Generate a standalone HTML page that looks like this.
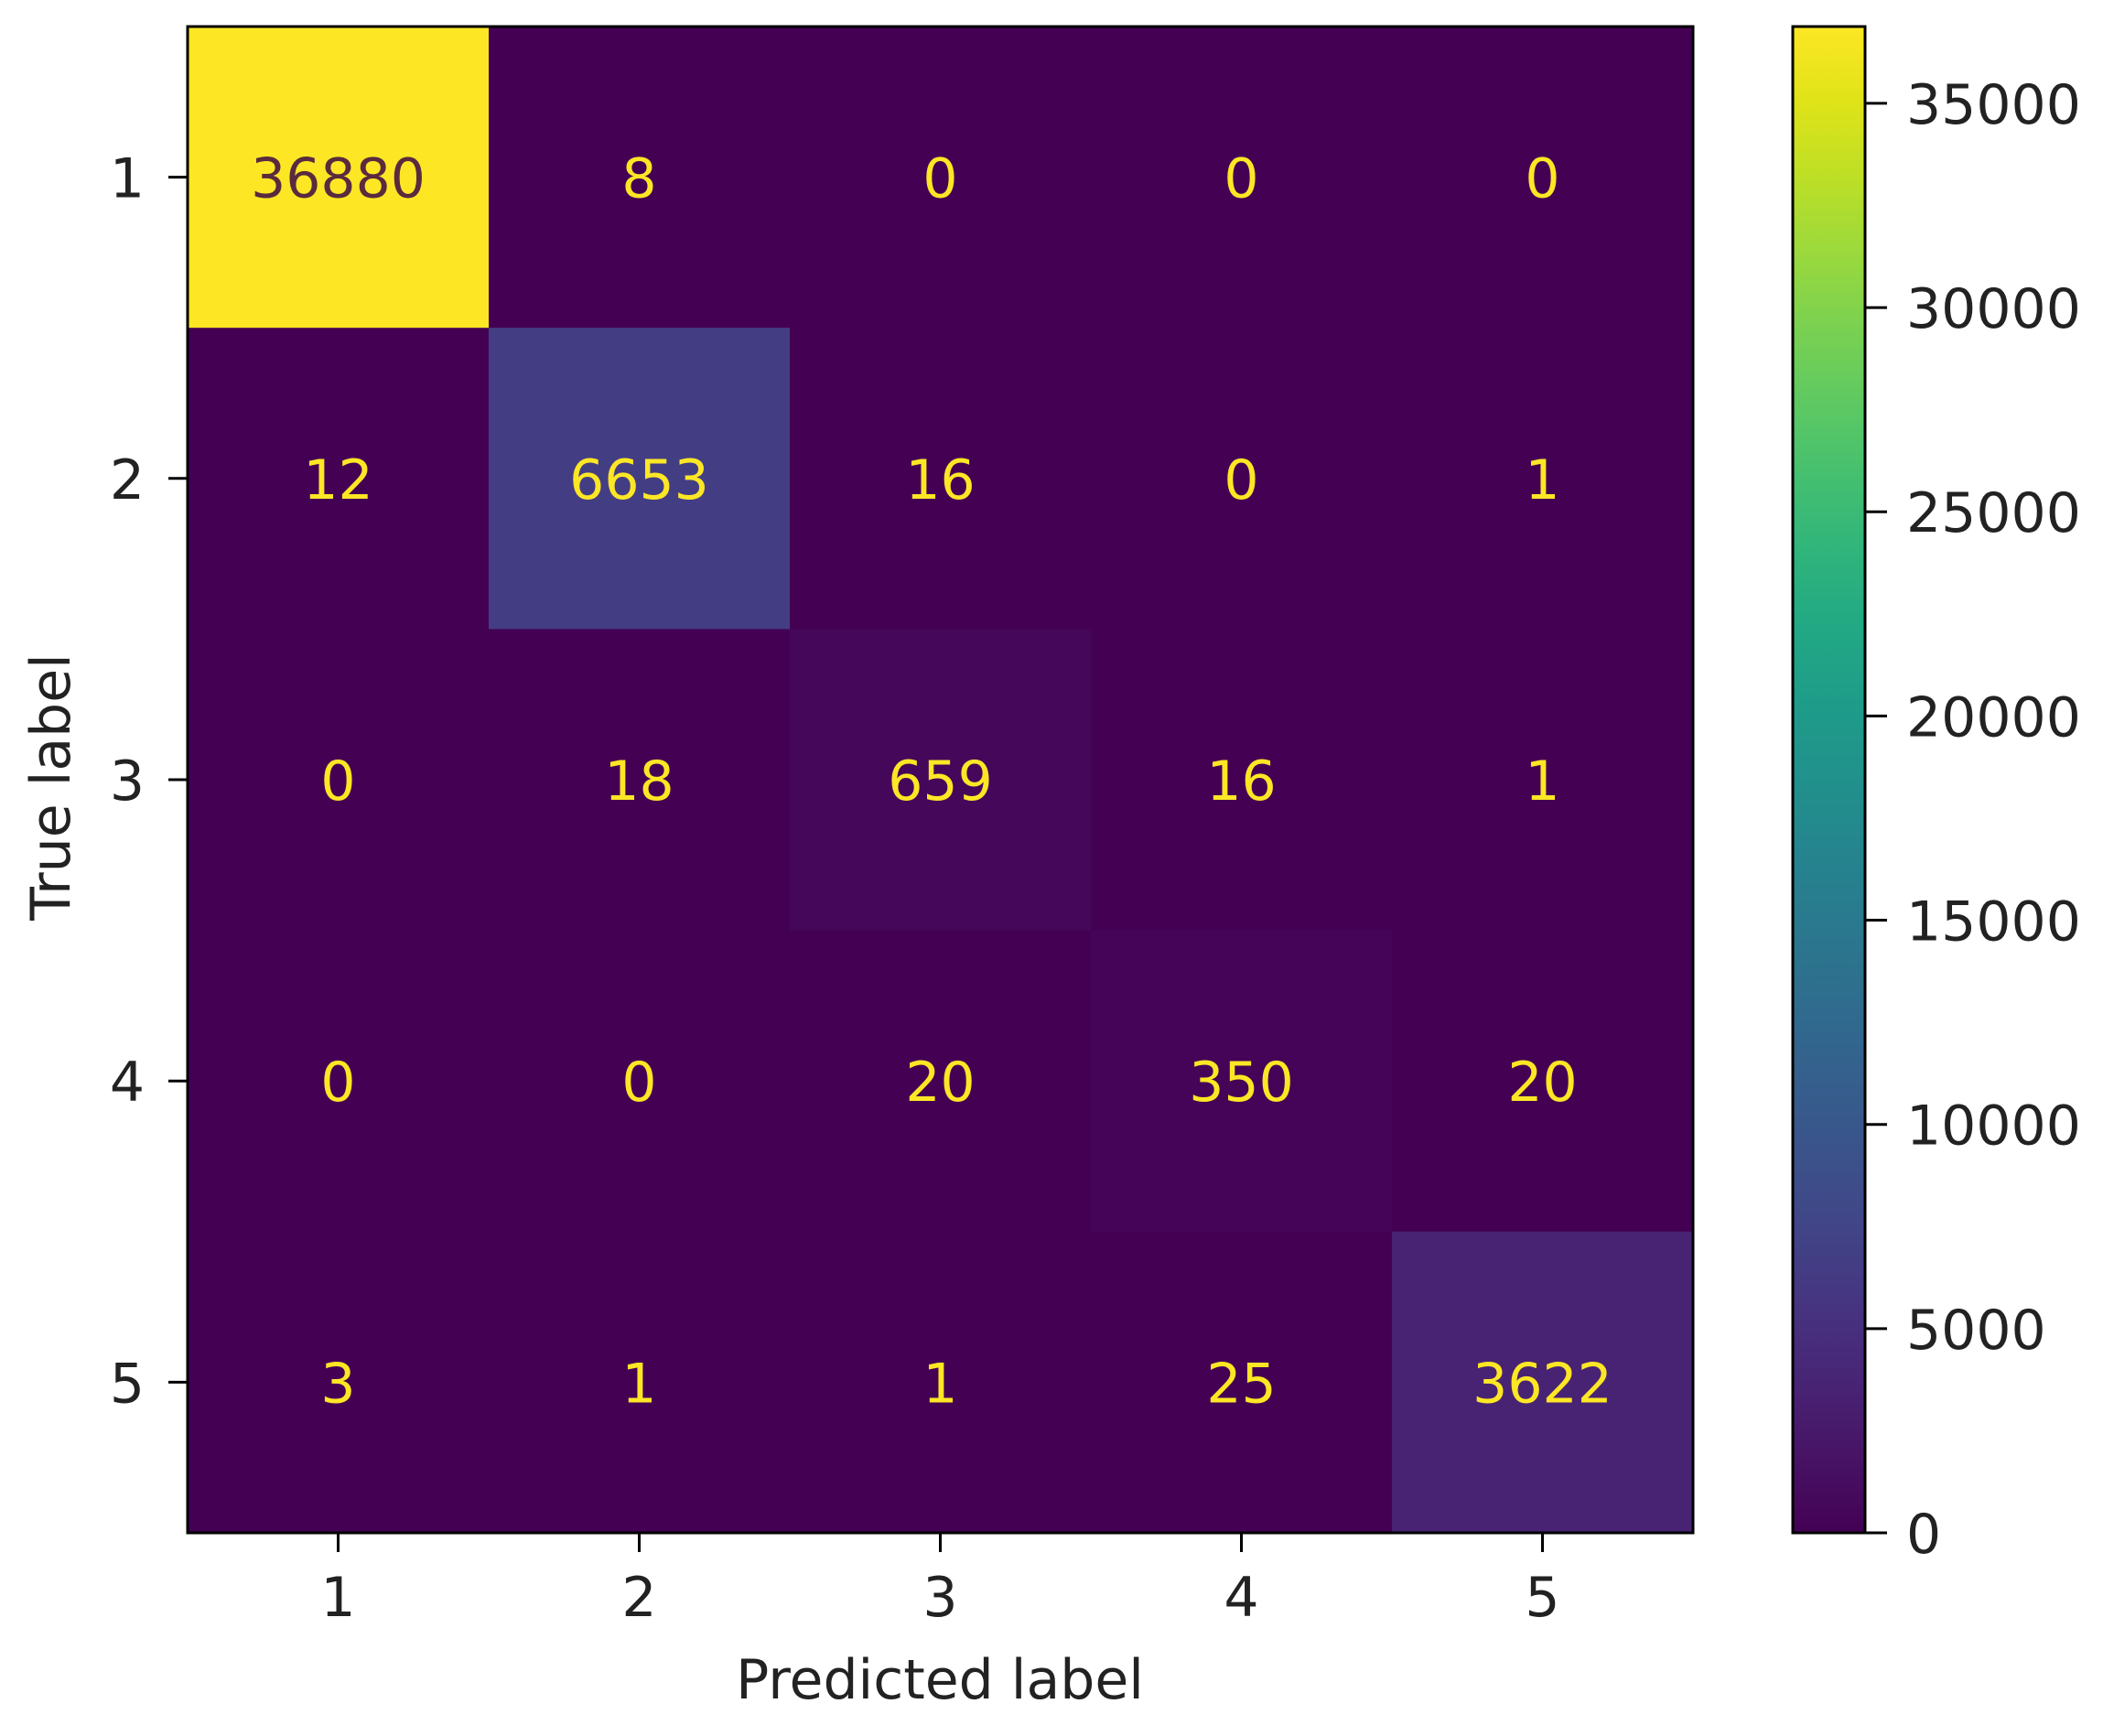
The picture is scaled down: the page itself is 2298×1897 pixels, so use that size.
<!DOCTYPE html>
<html><head><meta charset="utf-8"><style>
html,body{margin:0;padding:0;background:#fff;}
svg{display:block;font-family:"DejaVu Sans","Liberation Sans",sans-serif;}
</style></head><body>
<svg id="chart" width="2298" height="1897" viewBox="0 0 2298 1897" xmlns="http://www.w3.org/2000/svg">
<defs><linearGradient id="vgrad" x1="0" y1="1" x2="0" y2="0"></linearGradient></defs>
<g id="cells"></g>
<g id="annots"></g>
<rect x="205" y="29" width="1645" height="1646" fill="none" stroke="#000" stroke-width="3"/>
<g id="xticks"></g>
<g id="yticks"></g>
<text x="1027" y="1856" font-size="60" text-anchor="middle" fill="#222">Predicted label</text>
<text x="0" y="0" font-size="60" text-anchor="middle" fill="#222" transform="translate(76,860) rotate(-90)">True label</text>
<rect x="1959" y="29" width="79" height="1646" fill="url(#vgrad)" stroke="#000" stroke-width="3"/>
<g id="cbticks"></g>
</svg>
<script>
const categories = ["1","2","3","4","5"];
const matrix = [
  [36880, 8, 0, 0, 0],
  [12, 6653, 16, 0, 1],
  [0, 18, 659, 16, 1],
  [0, 0, 20, 350, 20],
  [3, 1, 1, 25, 3622]
];
const cbTickValues = [0, 5000, 10000, 15000, 20000, 25000, 30000, 35000];

const NS = "http://www.w3.org/2000/svg";
const viridis = ["#440154","#471365","#482475","#463480","#414487","#3b528b","#355f8d","#2f6c8e","#2a788e","#25848e","#21918c","#1e9c89","#22a884","#2fb47c","#44bf70","#5ec962","#7ad151","#9bd93c","#bddf26","#dfe318","#fde725"];
function hex(c){return [parseInt(c.slice(1,3),16),parseInt(c.slice(3,5),16),parseInt(c.slice(5,7),16)];}
function cmap(t){t=Math.max(0,Math.min(1,t));const p=t*(viridis.length-1);const i=Math.min(Math.floor(p),viridis.length-2);const f=p-i;const a=hex(viridis[i]),b=hex(viridis[i+1]);return "rgb("+a.map((v,k)=>Math.round(v+(b[k]-v)*f)).join(",")+")";}
const vmax = Math.max(...matrix.flat()), vmin = Math.min(...matrix.flat());
const plotLeft=205, plotTop=29, plotW=1645, plotH=1646, nCat=categories.length;
const cw=plotW/nCat, ch=plotH/nCat;
const xPos = i => plotLeft + cw*(i+0.5);
const yPos = i => plotTop + ch*(i+0.5);
const cbY = v => 1675 - (v-vmin)/(vmax-vmin)*1646;
function mk(tag, attrs, parent, txt){const e=document.createElementNS(NS,tag);for(const k in attrs)e.setAttribute(k,attrs[k]);if(txt!==undefined)e.textContent=txt;parent.appendChild(e);return e;}
const cells=document.getElementById("cells"), annots=document.getElementById("annots");
matrix.forEach((row,r)=>row.forEach((v,c)=>{
  const t=(v-vmin)/(vmax-vmin);
  const rect=mk("rect",{x:plotLeft+c*cw,y:plotTop+r*ch,width:cw+0.5,height:ch+0.5,fill:cmap(t)},cells);
  
  
  const tx=mk("text",{x:xPos(c),y:yPos(r)+22,"font-size":"60","text-anchor":"middle",fill:t>0.5?"#5a2a3e":"#fde725"},annots,String(v));
  
  
}));
const xt=document.getElementById("xticks"), yt=document.getElementById("yticks");
categories.forEach((lab,i)=>{
  const l=mk("line",{x1:xPos(i),x2:xPos(i),y1:1675,y2:1696,stroke:"#000","stroke-width":3},xt);
  
  
  const t=mk("text",{x:xPos(i),y:1766,"font-size":"60","text-anchor":"middle",fill:"#222"},xt,lab);
  
  
  const l2=mk("line",{x1:184,x2:205,y1:yPos(i),y2:yPos(i),stroke:"#000","stroke-width":3},yt);
  
  
  const t2=mk("text",{x:158,y:yPos(i)+22,"font-size":"60","text-anchor":"end",fill:"#222"},yt,lab);
  
  
});
const g=document.getElementById("vgrad");
viridis.forEach((c,i)=>{mk("stop",{offset:(i/(viridis.length-1)*100)+"%","stop-color":c},g);});
const cb=document.getElementById("cbticks");
cbTickValues.forEach(v=>{
  const y=cbY(v);
  const l=mk("line",{x1:2038,x2:2062,y1:y,y2:y,stroke:"#000","stroke-width":3},cb);
  
  
  const t=mk("text",{x:2083,y:y+22,"font-size":"60",fill:"#222"},cb,String(v));
  
  
});
</script>
</body></html>
